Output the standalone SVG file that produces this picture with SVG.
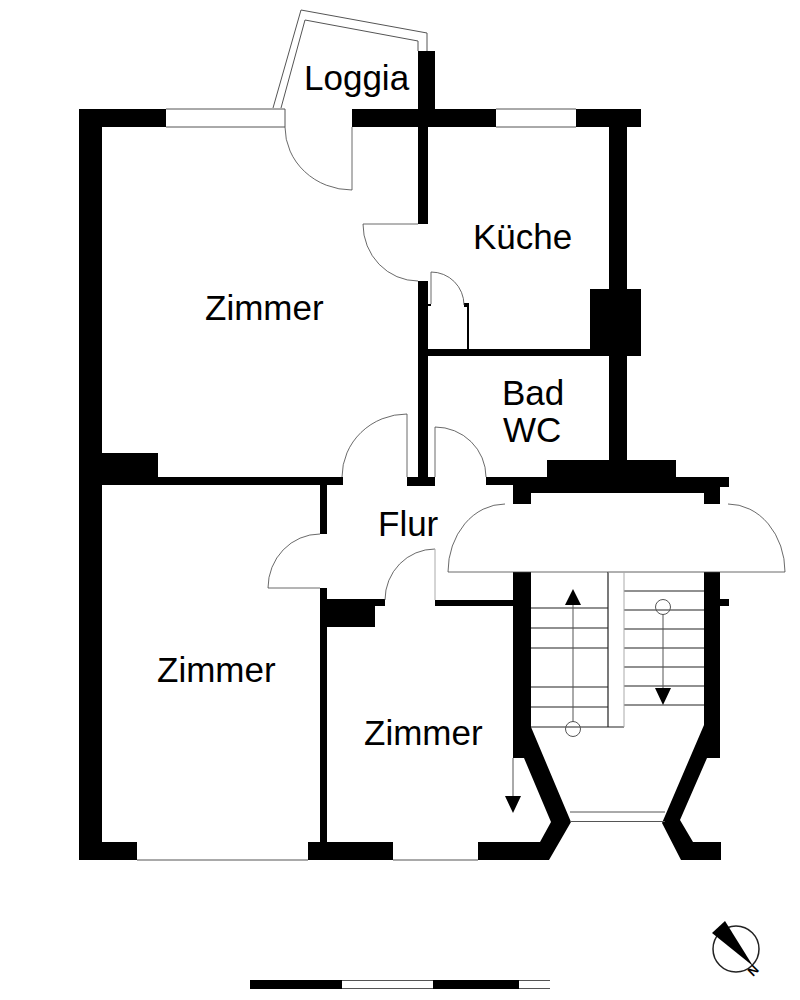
<svg xmlns="http://www.w3.org/2000/svg" width="800" height="1000" viewBox="0 0 800 1000">
<style>
.w{fill:#000;stroke:none}
.t{fill:none;stroke:#555;stroke-width:1}
.g{fill:none;stroke:#aaa;stroke-width:1}
.s{fill:none;stroke:#222;stroke-width:1.2}
.a{fill:none;stroke:#444;stroke-width:.8}
text{font-family:"Liberation Sans",Arial,sans-serif;font-size:35px;fill:#000}
</style>
<rect width="800" height="1000" fill="#fff"/>
<g id="walls">
<path class="w" d="M79 109H166V127H102V453H158V477H343V485H327V534H320V485H102V842H137V860H79Z"/>
<path class="w" d="M352 109H418V51H435V109H496V127H428V224H418V127H352Z"/>
<path class="w" d="M576 109H641V127H627V289H641V356H627V460H676V477H729V487H720V504H704V493H531V504H513V485H486V477H547V460H609V356H428V477H435V486H407V477H418V281H428V349H590V289H609V127H576Z"/>
<path class="w" d="M431 304V306H428V304Z"/>
<path class="w" d="M464 303H469V349H467V307H464Z"/>
<path class="w" d="M320 588H327V599H385V606H375V627H327V842H393V860H308V842H320Z"/>
<path class="w" d="M435 600H513V572H531V727L571 822L549 860H478V842H540L551 822L524 758H513V606H435Z"/>
<path class="w" d="M704 572H720V599H729V606H720V758H707L680 820L693 842H721V860H681L662 823L704 725Z"/>
</g>
<g id="windows">
<path class="t" d="M166 109H285V127H166M496 109H576M496 127H576M137 860H308M393 860H478M570 812H665M570 821.500H665"/>
<path class="t" d="M273 108L301 10L427 33V51M281 108L305 20L418 41V51"/>
</g>
<g id="doors">
<path class="a" d="M352 127V190A67 63 0 0 1 285 127"/>
<path class="a" d="M418 224H363A55 57 0 0 0 418 281"/>
<path class="a" d="M431 304V272A33 33 0 0 1 464 305"/>
<path class="a" d="M342 477A65 63 0 0 1 407 414V477"/>
<path class="a" d="M435 477V427A51 50 0 0 1 486 477"/>
<path class="a" d="M320 534A52 54 0 0 0 268 588H320"/>
<path class="a" d="M385 600A50 51 0 0 1 435 549"/>
<path class="g" d="M435 549V600"/>
<path class="a" d="M505 504A57 68 0 0 0 448 572H785A57 68 0 0 0 728 504"/>
</g>
<g id="stairs">
<path class="s" d="M531 608H608M531 628H608M531 648H608M531 687H608M531 707H608M531 727H624M624 591H704M624 610H704M624 629H704M624 648H704M624 667H704M624 686H704M624 705H704M608 572V727"/>
<path class="g" d="M608 572H704M624 572V727"/>
<path class="t" d="M573 605V722M663 614V690M513 758V797"/>
<circle class="t" cx="573" cy="729" r="7.500"/>
<circle class="t" cx="663" cy="607" r="7.500"/>
<path class="w" d="M573 589L581 605H565ZM655 688H671L663 705ZM505 796H521L513 813Z"/>
</g>
<g id="labels">
<text x="304" y="90">Loggia</text>
<text x="473" y="249">Küche</text>
<text x="205" y="320">Zimmer</text>
<text x="502" y="405">Bad</text>
<text x="503" y="442">WC</text>
<text x="378" y="536">Flur</text>
<text x="157" y="682">Zimmer</text>
<text x="364" y="745">Zimmer</text>
</g>
<g id="compass">
<circle cx="736" cy="949" r="23" fill="none" stroke="#222" stroke-width="1.500"/>
<path class="w" d="M712 933L725 921L753 966Z"/>
<text x="0" y="0" transform="translate(753 977) rotate(-45)" style="font-size:13px;font-weight:bold">N</text>
</g>
<g id="scale">
<rect class="w" x="250" y="980" width="92" height="9"/>
<rect class="w" x="433" y="980" width="86" height="9"/>
<path class="t" d="M342 980.500H433M342 988.500H433M519 980.500H550M519 988.500H550"/>
</g>
</svg>
